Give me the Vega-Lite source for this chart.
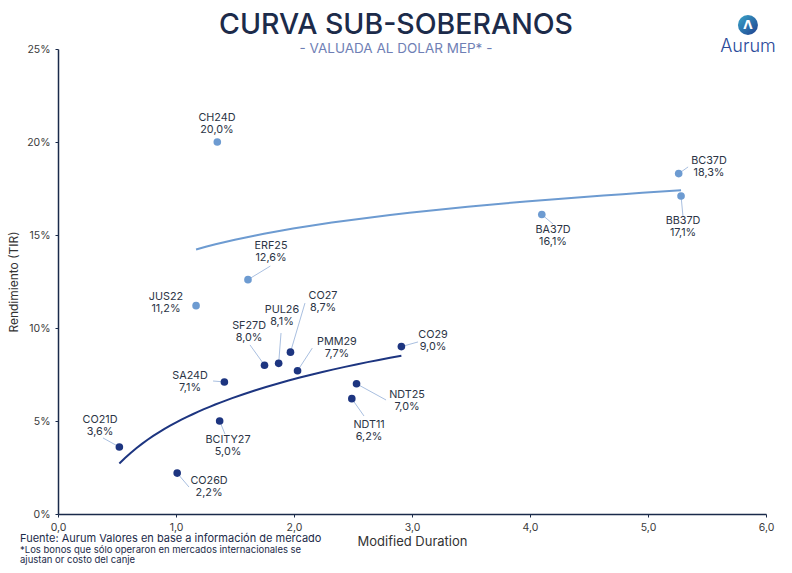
{
  "$schema": "https://vega.github.io/schema/vega-lite/v6.json",
  "width": 708,
  "height": 465,
  "autosize": {"type": "none"},
  "padding": {"left": 58, "top": 49, "right": 26, "bottom": 59},
  "background": "white",
  "title": {
    "text": "CURVA SUB-SOBERANOS",
    "subtitle": "- VALUADA AL DOLAR MEP* -",
    "anchor": "middle",
    "frame": "group",
    "dx": -16,
    "offset": -40,
    "font": "Inter",
    "fontSize": 28.5,
    "fontWeight": 500,
    "color": "#1c2b4a",
    "subtitleFont": "Inter",
    "subtitleFontSize": 13.5,
    "subtitleColor": "#6f7fb5",
    "subtitlePadding": 2
  },
  "datasets": {
    "bonos": [
      {"bono": "CH24D", "grupo": "internacional", "md": 1.35, "tir": 0.200, "lx": 1.347, "ly": 0.2097},
      {"bono": "ERF25", "grupo": "internacional", "md": 1.61, "tir": 0.126, "lx": 1.805, "ly": 0.1406, "ex": 1.80, "ey": 0.1333},
      {"bono": "JUS22", "grupo": "internacional", "md": 1.17, "tir": 0.112, "lx": 0.915, "ly": 0.1134},
      {"bono": "BC37D", "grupo": "internacional", "md": 5.26, "tir": 0.183, "lx": 5.517, "ly": 0.1866, "ex": 5.34, "ey": 0.1866},
      {"bono": "BB37D", "grupo": "internacional", "md": 5.28, "tir": 0.171, "lx": 5.297, "ly": 0.1543, "ex": 5.297, "ey": 0.1597},
      {"bono": "BA37D", "grupo": "internacional", "md": 4.10, "tir": 0.161, "lx": 4.195, "ly": 0.1495, "ex": 4.195, "ey": 0.1559},
      {"bono": "CO27", "grupo": "local", "md": 1.97, "tir": 0.087, "lx": 2.246, "ly": 0.1140, "ex": 2.093, "ey": 0.1134},
      {"bono": "PUL26", "grupo": "local", "md": 1.87, "tir": 0.081, "lx": 1.898, "ly": 0.1062, "ex": 1.890, "ey": 0.0973},
      {"bono": "SF27D", "grupo": "local", "md": 1.75, "tir": 0.080, "lx": 1.619, "ly": 0.0981, "ex": 1.627, "ey": 0.0909},
      {"bono": "PMM29", "grupo": "local", "md": 2.03, "tir": 0.077, "lx": 2.364, "ly": 0.0895, "ex": 2.155, "ey": 0.0892},
      {"bono": "CO29", "grupo": "local", "md": 2.91, "tir": 0.090, "lx": 3.178, "ly": 0.0930, "ex": 3.051, "ey": 0.0925},
      {"bono": "SA24D", "grupo": "local", "md": 1.41, "tir": 0.071, "lx": 1.119, "ly": 0.0710, "ex": 1.314, "ey": 0.0715},
      {"bono": "NDT25", "grupo": "local", "md": 2.53, "tir": 0.070, "lx": 2.958, "ly": 0.0605, "ex": 2.78, "ey": 0.0613},
      {"bono": "NDT11", "grupo": "local", "md": 2.49, "tir": 0.062, "lx": 2.636, "ly": 0.0446, "ex": 2.593, "ey": 0.0527},
      {"bono": "BCITY27", "grupo": "local", "md": 1.37, "tir": 0.050, "lx": 1.441, "ly": 0.0368, "ex": 1.415, "ey": 0.0430},
      {"bono": "CO21D", "grupo": "local", "md": 0.52, "tir": 0.036, "lx": 0.356, "ly": 0.0473, "ex": 0.381, "ey": 0.0409},
      {"bono": "CO26D", "grupo": "local", "md": 1.01, "tir": 0.022, "lx": 1.280, "ly": 0.0145, "ex": 1.110, "ey": 0.0145}
    ]
  },
  "data": {"name": "bonos"},
  "encoding": {
    "x": {
      "field": "md", "type": "quantitative",
      "scale": {"domain": [0, 6], "nice": false, "zero": true},
      "axis": {
        "title": "Modified Duration",
        "values": [0, 1, 2, 3, 4, 5, 6],
        "format": ".1f",
        "grid": false,
        "labelFlush": false,
        "domainColor": "#1a2a4a", "domainWidth": 1.5,
        "tickColor": "#1a2a4a", "tickSize": 3,
        "labelFont": "Inter", "labelFontSize": 10.5, "labelColor": "#3a3a3a", "labelPadding": 5,
        "titleFont": "Inter", "titleFontSize": 13, "titleFontWeight": "normal", "titleColor": "#333333", "titlePadding": 3
      }
    },
    "y": {
      "field": "tir", "type": "quantitative",
      "scale": {"domain": [0, 0.25], "nice": false},
      "axis": {
        "title": "Rendimiento (TIR)",
        "values": [0, 0.05, 0.1, 0.15, 0.2, 0.25],
        "format": ".0%",
        "grid": false,
        "labelFlush": false,
        "domainColor": "#1a2a4a", "domainWidth": 1.5,
        "tickColor": "#1a2a4a", "tickSize": 3,
        "labelFont": "Inter", "labelFontSize": 10.5, "labelColor": "#3a3a3a", "labelPadding": 5,
        "titleFont": "Inter", "titleFontSize": 12, "titleFontWeight": "normal", "titleColor": "#333333", "titlePadding": 6
      }
    }
  },
  "layer": [
    {
      "transform": [{"filter": "isValid(datum.ex)"}],
      "mark": {"type": "rule", "color": "#a9bfe0", "strokeWidth": 1},
      "encoding": {"x2": {"field": "ex"}, "y2": {"field": "ey"}}
    },
    {
      "transform": [{"regression": "tir", "on": "md", "method": "log", "groupby": ["grupo"]}],
      "mark": {"type": "line", "strokeWidth": 2},
      "encoding": {
        "color": {"field": "grupo", "type": "nominal", "scale": {"domain": ["local", "internacional"], "range": ["#1d3580", "#6d9bd1"]}, "legend": null}
      }
    },
    {
      "mark": {"type": "circle", "size": 58, "opacity": 1},
      "encoding": {
        "color": {"field": "grupo", "type": "nominal", "scale": {"domain": ["local", "internacional"], "range": ["#1b2f8f", "#7ea5d5"]}, "legend": null}
      }
    },
    {
      "mark": {"type": "text", "font": "Inter", "fontSize": 10.8, "color": "#2b3445", "dy": -6, "baseline": "middle", "align": "center"},
      "encoding": {"x": {"field": "lx", "type": "quantitative"}, "y": {"field": "ly", "type": "quantitative"}, "text": {"field": "bono"}}
    },
    {
      "mark": {"type": "text", "font": "Inter", "fontSize": 10.8, "color": "#2b3445", "dy": 6, "baseline": "middle", "align": "center"},
      "encoding": {"x": {"field": "lx", "type": "quantitative"}, "y": {"field": "ly", "type": "quantitative"}, "text": {"field": "tir", "format": ".1%"}}
    },
    {
      "data": {"values": [{"t": "Fuente: Aurum Valores en base a información de mercado", "px": -0.322, "py": -0.0132}]},
      "mark": {"type": "text", "font": "Inter", "fontSize": 11, "color": "#1c2b4a", "align": "left", "baseline": "middle", "clip": false},
      "encoding": {"x": {"field": "px", "type": "quantitative"}, "y": {"field": "py", "type": "quantitative"}, "text": {"field": "t"}}
    },
    {
      "data": {"values": [
        {"t": "*Los bonos que sólo operaron en mercados internacionales se", "px": -0.322, "py": -0.0196},
        {"t": "ajustan or costo del canje", "px": -0.322, "py": -0.0249}
      ]},
      "mark": {"type": "text", "font": "Inter", "fontSize": 9.5, "color": "#1c2b4a", "align": "left", "baseline": "middle", "clip": false},
      "encoding": {"x": {"field": "px", "type": "quantitative"}, "y": {"field": "py", "type": "quantitative"}, "text": {"field": "t"}}
    },
    {
      "data": {"values": [{"px": 5.847, "py": 0.2629}]},
      "mark": {"type": "circle", "size": 400, "opacity": 1, "clip": false,
        "color": {"gradient": "linear", "x1": 0, "y1": 0, "x2": 1, "y2": 1, "stops": [{"offset": 0, "color": "#3aa6c9"}, {"offset": 1, "color": "#1f3f8f"}]}},
      "encoding": {"x": {"field": "px", "type": "quantitative"}, "y": {"field": "py", "type": "quantitative"}}
    },
    {
      "data": {"values": [{"t": "Λ", "px": 5.847, "py": 0.2629}]},
      "mark": {"type": "text", "font": "DejaVu Sans", "fontSize": 12, "fontWeight": "bold", "color": "white", "align": "center", "baseline": "middle", "clip": false},
      "encoding": {"x": {"field": "px", "type": "quantitative"}, "y": {"field": "py", "type": "quantitative"}, "text": {"field": "t"}}
    },
    {
      "data": {"values": [{"t": "Aurum", "px": 5.847, "py": 0.2511}]},
      "mark": {"type": "text", "font": "Inter", "fontSize": 18, "fontWeight": 300, "color": "#2a4a9a", "align": "center", "baseline": "middle", "clip": false},
      "encoding": {"x": {"field": "px", "type": "quantitative"}, "y": {"field": "py", "type": "quantitative"}, "text": {"field": "t"}}
    }
  ],
  "config": {
    "view": {"stroke": null},
    "locale": {"number": {"decimal": ",", "thousands": ".", "grouping": [3], "currency": ["$", ""]}}
  }
}
